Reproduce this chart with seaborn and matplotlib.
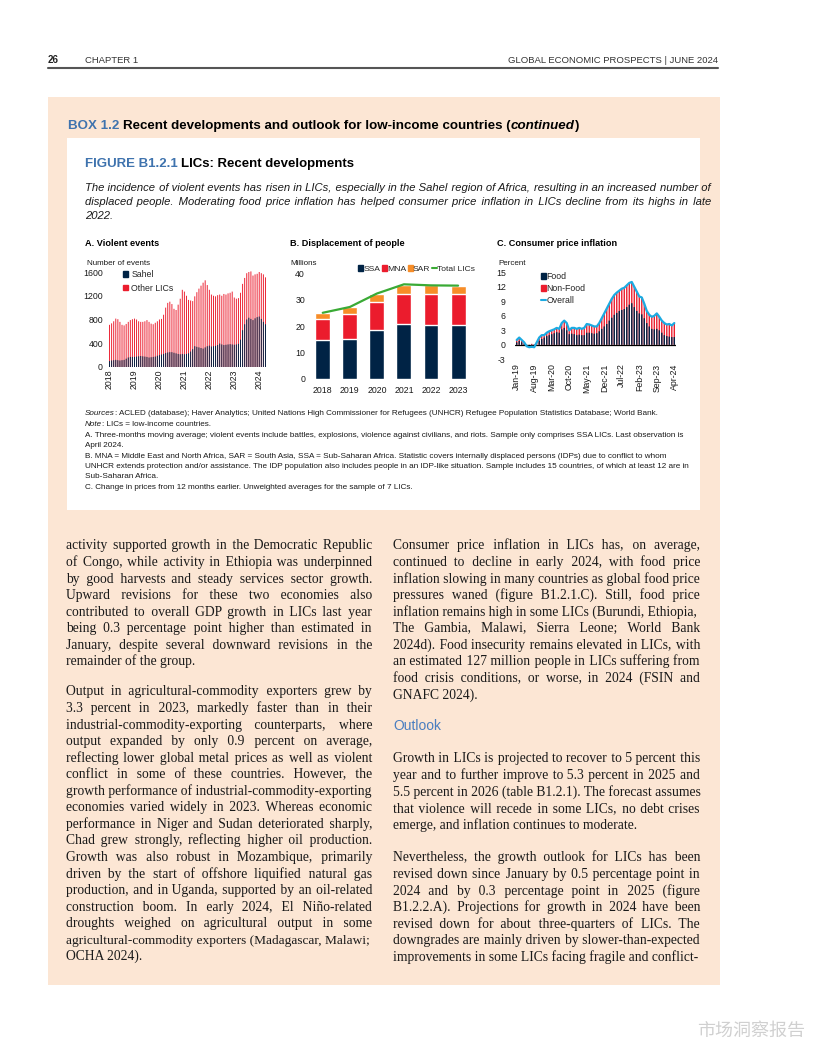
import matplotlib
matplotlib.use("Agg")
import matplotlib.pyplot as plt
import seaborn as sns
import numpy as np
import pandas as pd
from matplotlib.patches import Rectangle, Patch
from matplotlib.lines import Line2D

# ---------------- data ----------------
# Panel A: violent events, monthly Jan-2018 .. Apr-2024
year_labels_a = ["2018", "2019", "2020", "2021", "2022", "2023", "2024"]
sahel = [100, 110, 115, 120, 115, 110, 115, 120, 140, 160, 170, 170,
         170, 175, 180, 185, 180, 175, 170, 160, 165, 170, 175, 190,
         200, 210, 220, 235, 245, 250, 250, 240, 230, 220, 215, 220,
         215, 220, 230, 260, 300, 350, 340, 330, 320, 310, 330, 350,
         360, 345, 350, 355, 370, 395, 380, 370, 375, 380, 385, 380,
         375, 380, 390, 460, 620, 720, 800, 830, 810, 790, 820, 840,
         850, 810, 760, 720]
other_lics = [610, 625, 655, 695, 690, 650, 595, 580, 585, 600, 620, 635,
              645, 625, 590, 575, 580, 595, 620, 600, 565, 550, 570, 580,
              600, 600, 660, 765, 835, 850, 810, 740, 730, 830, 935, 1080,
              1055, 980, 900, 860, 810, 840, 920, 990, 1050, 1110, 1130, 1030,
              940, 875, 850, 835, 840, 825, 820, 860, 845, 860, 865, 890,
              795, 770, 770, 790, 780, 780, 780, 770, 800, 750, 740, 730,
              750, 770, 800, 790]

# Panel B: displacement of people (millions)
years_b = ["2018", "2019", "2020", "2021", "2022", "2023"]
ssa = [14.6, 15.0, 18.4, 20.9, 20.6, 20.6]
mna = [8.3, 9.5, 10.8, 11.3, 11.5, 11.5]
sar = [2.2, 2.7, 3.0, 3.5, 3.4, 3.2]
total_lics = [25.1, 27.3, 32.4, 35.9, 35.5, 35.4]

# Panel C: consumer price inflation, monthly Jan-2019 .. Apr-2024
tick_labels_c = ["Jan-19", "Aug-19", "Mar-20", "Oct-20", "May-21",
                 "Dec-21", "Jul-22", "Feb-23", "Sep-23", "Apr-24"]
food = [0.5, 0.8, 0.5, 0.2, -0.3, -0.5, -0.6, -0.6, 0.0, 0.8, 1.2, 1.5,
        1.8, 2.0, 2.2, 2.4, 2.6, 2.5, 3.2, 3.5, 3.0, 2.2, 2.3, 2.2,
        2.0, 2.1, 2.0, 2.0, 2.5, 2.5, 2.4, 2.3, 2.4, 2.8, 3.3, 3.8,
        4.3, 5.0, 5.6, 6.2, 6.6, 7.0, 7.2, 7.4, 7.8, 8.3, 8.6, 7.8,
        7.0, 6.5, 6.3, 5.5, 4.5, 3.8, 3.3, 3.2, 3.3, 3.0, 2.5, 2.0,
        1.8, 1.7, 1.6, 1.6]
non_food = [0.5, 0.7, 0.5, 0.3, 0.0, 0.0, 0.2, 0.1, 0.5, 0.7, 0.8, 0.5,
            0.7, 0.8, 0.8, 0.8, 0.9, 0.8, 1.3, 1.5, 1.5, 0.8, 1.2, 1.3,
            1.3, 1.4, 1.3, 1.5, 1.8, 1.7, 1.6, 1.5, 1.4, 1.7, 2.2, 2.7,
            3.2, 3.5, 3.9, 4.1, 4.2, 4.2, 4.4, 4.4, 4.5, 4.5, 4.4, 4.2,
            4.0, 3.5, 3.5, 3.0, 2.5, 2.4, 2.5, 2.8, 3.2, 2.8, 2.5, 2.5,
            2.4, 2.6, 2.4, 2.9]
overall = [1.0, 1.5, 1.0, 0.5, -0.3, -0.5, -0.4, -0.5, 0.5, 1.5, 2.0, 2.0,
           2.5, 2.8, 3.0, 3.2, 3.5, 3.3, 4.5, 5.0, 4.5, 3.0, 3.5, 3.5,
           3.3, 3.5, 3.3, 3.5, 4.3, 4.2, 4.0, 3.8, 3.8, 4.5, 5.5, 6.5,
           7.5, 8.5, 9.5, 10.3, 10.8, 11.2, 11.6, 11.8, 12.3, 12.8, 13.0, 12.0,
           11.0, 10.0, 9.8, 8.5, 7.0, 6.2, 5.8, 6.0, 6.5, 5.8, 5.0, 4.5,
           4.2, 4.3, 4.0, 4.5]

# ---------------- text ----------------
left_col = [
    ["activity supported growth in the Democratic Republic",
     "of Congo, while activity in Ethiopia was underpinned",
     "by good harvests and steady services sector growth.",
     "Upward revisions for these two economies also",
     "contributed to overall GDP growth in LICs last year",
     "being 0.3 percentage point higher than estimated in",
     "January, despite several downward revisions in the",
     "remainder of the group."],
    ["Output in agricultural-commodity exporters grew by",
     "3.3 percent in 2023, markedly faster than in their",
     "industrial-commodity-exporting counterparts, where",
     "output expanded by only 0.9 percent on average,",
     "reflecting lower global metal prices as well as violent",
     "conflict in some of these countries. However, the",
     "growth performance of industrial-commodity-exporting",
     "economies varied widely in 2023. Whereas economic",
     "performance in Niger and Sudan deteriorated sharply,",
     "Chad grew strongly, reflecting higher oil production.",
     "Growth was also robust in Mozambique, primarily",
     "driven by the start of offshore liquified natural gas",
     "production, and in Uganda, supported by an oil-related",
     "construction boom. In early 2024, El Niño-related",
     "droughts weighed on agricultural output in some",
     "agricultural-commodity exporters (Madagascar, Malawi;",
     "OCHA 2024)."],
]
right_col = [
    ["Consumer price inflation in LICs has, on average,",
     "continued to decline in early 2024, with food price",
     "inflation slowing in many countries as global food price",
     "pressures waned (figure B1.2.1.C). Still, food price",
     "inflation remains high in some LICs (Burundi, Ethiopia,",
     "The Gambia, Malawi, Sierra Leone; World Bank",
     "2024d). Food insecurity remains elevated in LICs, with",
     "an estimated 127 million people in LICs suffering from",
     "food crisis conditions, or worse, in 2024 (FSIN and",
     "GNAFC 2024)."],
    ["Growth in LICs is projected to recover to 5 percent this",
     "year and to further improve to 5.3 percent in 2025 and",
     "5.5 percent in 2026 (table B1.2.1). The forecast assumes",
     "that violence will recede in some LICs, no debt crises",
     "emerge, and inflation continues to moderate."],
    ["Nevertheless, the growth outlook for LICs has been",
     "revised down since January by 0.5 percentage point in",
     "2024 and by 0.3 percentage point in 2025 (figure",
     "B1.2.2.A). Projections for growth in 2024 have been",
     "revised down for about three-quarters of LICs. The",
     "downgrades are mainly driven by slower-than-expected",
     "improvements in some LICs facing fragile and conflict-"],
]

# ---------------- setup ----------------
sns.set_theme(style="white")
SANS = ['Liberation Sans', 'DejaVu Sans']
plt.rcParams['font.family'] = SANS
plt.rcParams['axes.unicode_minus'] = False

W, H = 816, 1056
fig = plt.figure(figsize=(W / 100, H / 100), dpi=100)
fig.patch.set_facecolor('white')
R = fig.canvas.get_renderer()

NAVY = '#002345'
RED = '#EB1C2D'
ORANGE = '#F78D28'
GREEN = '#3AAA35'
CYAN = '#1CABE2'
BLUE = '#3F73AE'
PEACH = '#FCE6D4'
TXT = '#1a1a1a'
HAIR = '\u200a'


def fx(x):
    return x / W


def fy(y):
    return 1 - y / H


def put(x, y, s, **kw):
    # y is the visual middle of the line; place on a baseline
    if 'va' not in kw:
        fs = kw.get('fontsize', 10)
        y = y + 0.33 * fs * 100 / 72
        kw['va'] = 'baseline'
    return fig.text(fx(x), fy(y), s, **kw)


def width_of(s, **kw):
    t = fig.text(0, 0, s, **kw)
    w = t.get_window_extent(R).width
    t.remove()
    return w


def space_of(**kw):
    return width_of("x x", **kw) - width_of("xx", **kw)


def rich(x, y, parts):
    for s, kw in parts:
        if s == ' ':
            x += space_of(**kw)
            continue
        put(x, y, s, **kw)
        x += width_of(s, **kw)


def justify(x0, x1, y, line, last=False, **kw):
    """Draw one line as a single text, widening the gaps with hair spaces."""
    words = line.split(' ')
    if last or len(words) == 1:
        put(x0, y, line, **kw)
        return
    ws = [width_of(w, **kw) for w in words]
    sp = space_of(**kw)
    hw = width_of('x' + HAIR + 'x', **kw) - width_of('xx', **kw)
    g = (x1 - x0 - sum(ws)) / (len(words) - 1)
    if g < sp:
        # too long for the column: shrink this line slightly so it fits
        kw = dict(kw)
        kw['fontsize'] = kw.get('fontsize', 10) * (x1 - x0) / width_of(line, **kw)
        put(x0, y, line, **kw)
        return
    if hw < 0.2:
        put(x0, y, line, **kw)
        return
    out = [words[0]]
    err = 0.0
    for w in words[1:]:
        need = g + err
        k = max(0, int(round((need - sp) / hw)))
        out.append(' ' + HAIR * k)
        out.append(w)
        err = need - (sp + k * hw)
    put(x0, y, ''.join(out), **kw)


def rect(x0, y0, x1, y1, color):
    fig.patches.append(Rectangle((fx(x0), fy(y1)), (x1 - x0) / W, (y1 - y0) / H,
                                 transform=fig.transFigure, facecolor=color,
                                 edgecolor='none', zorder=-10))


# ---------------- page frame ----------------
rect(48, 97, 720, 985, PEACH)
rect(67, 138, 700, 510, 'white')

put(48, 60, "26", fontsize=7, fontweight='bold', color='#222')
put(85, 60, "CHAPTER 1", fontsize=6.8, color='#333')
put(718, 60, "GLOBAL ECONOMIC PROSPECTS | JUNE 2024", fontsize=6.8, color='#333', ha='right')
fig.add_artist(Line2D([fx(48), fx(718)], [fy(68), fy(68)], transform=fig.transFigure,
                      color='#555555', lw=1.5))

TF = 9.6
rich(68, 125, [("BOX 1.2", dict(fontsize=TF, fontweight='bold', color=BLUE)),
               (' ', dict(fontsize=TF, fontweight='bold')),
               ("Recent developments and outlook for low-income countries (",
                dict(fontsize=TF, fontweight='bold', color='black')),
               ("continued", dict(fontsize=TF, fontweight='bold', style='italic', color='black')),
               (")", dict(fontsize=TF, fontweight='bold', color='black'))])

rich(85, 163, [("FIGURE B1.2.1", dict(fontsize=9.5, fontweight='bold', color=BLUE)),
               (' ', dict(fontsize=9.5, fontweight='bold')),
               ("LICs: Recent developments", dict(fontsize=9.5, fontweight='bold', color='black'))])

sub1 = "The incidence of violent events has risen in LICs, especially in the Sahel region of Africa, resulting in an increased number of"
sub_fs = 10 * (711 - 85 - 6) / width_of(sub1, fontsize=10, style='italic')
sub_kw = dict(fontsize=sub_fs, style='italic', color=TXT)
justify(85, 711, 187, sub1, **sub_kw)
justify(85, 711, 201, "displaced people. Moderating food price inflation has helped consumer price inflation in LICs decline from its highs in late", **sub_kw)
justify(85, 711, 215, "2022.", last=True, **sub_kw)

ttl = dict(fontsize=6.6, fontweight='bold', color='black')
put(85, 243, "A. Violent events", **ttl)
put(290, 243, "B. Displacement of people", **ttl)
put(497, 243, "C. Consumer price inflation", **ttl)
unit = dict(fontsize=5.8, color=TXT)
put(87, 262, "Number of events", **unit)
put(290, 262, "Millions", **unit)
put(498, 262, "Percent", **unit)

TICK = 6.3


def style_ax(ax):
    ax.set_facecolor('none')
    for s in ax.spines.values():
        s.set_visible(False)
    ax.set_xlabel('')
    ax.set_ylabel('')
    ax.tick_params(axis='both', length=0, labelsize=TICK, colors=TXT)


def thin_bars(ax):
    for p in ax.patches:
        p.set_snap(False)
        p.set_linewidth(0)
        p.set_antialiased(True)


def axes_px(x0, x1, ytop, ybot):
    return fig.add_axes([fx(x0), fy(ybot), (x1 - x0) / W, (ybot - ytop) / H])


# ---------------- Panel A ----------------
n_a = len(sahel)
df_a = pd.DataFrame({"m": np.arange(n_a),
                     "top": np.array(sahel) + np.array(other_lics),
                     "sahel": sahel})
axA = axes_px(108.5, 266.5, 367 - 1650 / 1600 * 95, 367)
sns.barplot(data=df_a, x="m", y="top", color=RED, saturation=1,
            width=0.45, errorbar=None, ax=axA)
sns.barplot(data=df_a, x="m", y="sahel", color=NAVY, saturation=1,
            width=0.45, errorbar=None, ax=axA)
thin_bars(axA)
axA.set_xlim(-0.5, n_a - 0.5)
axA.set_ylim(0, 1650)
axA.set_yticks([0, 400, 800, 1200, 1600])
axA.set_xticks(np.arange(0, n_a, 12))
axA.set_xticklabels(year_labels_a, rotation=90)
style_ax(axA)
axA.tick_params(axis='y', pad=4)
axA.tick_params(axis='x', pad=2)
axA.legend(handles=[Patch(color=NAVY, label="Sahel"), Patch(color=RED, label="Other LICs")],
           loc='upper left', bbox_to_anchor=(fx(123), fy(270)), bbox_transform=fig.transFigure,
           frameon=False, fontsize=6.3, handlelength=0.55, handleheight=0.55,
           handletextpad=0.4, labelspacing=0.55, borderpad=0, borderaxespad=0)

# ---------------- Panel B ----------------
df_b = pd.DataFrame({"year": years_b,
                     "l3": np.array(ssa) + np.array(mna) + np.array(sar),
                     "l2": np.array(ssa) + np.array(mna),
                     "l1": ssa,
                     "total": total_lics})
axB = axes_px(309.2, 471.6, 273.5, 379)
sns.barplot(data=df_b, x="year", y="l3", color=ORANGE, saturation=1, width=0.55,
            errorbar=None, ax=axB)
sns.barplot(data=df_b, x="year", y="l2", color=RED, saturation=1, width=0.55,
            errorbar=None, ax=axB)
sns.barplot(data=df_b, x="year", y="l1", color=NAVY, saturation=1, width=0.55,
            errorbar=None, ax=axB)
sns.lineplot(x=np.arange(len(years_b)), y=df_b["total"].values, color=GREEN, lw=1.6, ax=axB)
axB.set_xlim(-0.5, len(years_b) - 0.5)
axB.set_ylim(0, 40)
axB.set_yticks([0, 10, 20, 30, 40])
style_ax(axB)
axB.tick_params(axis='y', pad=3)
axB.tick_params(axis='x', pad=5)
axB.legend(handles=[Patch(color=NAVY, label="SSA"), Patch(color=RED, label="MNA"),
                    Patch(color=ORANGE, label="SAR"),
                    Line2D([], [], color=GREEN, lw=1.5, label="Total LICs")],
           loc='center left', bbox_to_anchor=(fx(358), fy(269)), bbox_transform=fig.transFigure,
           frameon=False, fontsize=6.1, ncol=4, handlelength=0.6, handleheight=0.6,
           handletextpad=0.05, columnspacing=0.15, borderpad=0, borderaxespad=0)

# ---------------- Panel C ----------------
n_c = len(food)
food_a = np.array(food)
df_c = pd.DataFrame({"m": np.arange(n_c),
                     "top": np.clip(food_a, 0, None) + np.array(non_food),
                     "food": food,
                     "overall": overall})
axC = axes_px(515.45, 675.55, 272.3, 359.3)
sns.barplot(data=df_c, x="m", y="top", color=RED, saturation=1,
            width=0.55, errorbar=None, ax=axC)
sns.barplot(data=df_c, x="m", y="food", color=NAVY, saturation=1,
            width=0.55, errorbar=None, ax=axC)
thin_bars(axC)
axC.plot(df_c["m"].values, df_c["overall"].values, color=CYAN, lw=1.6, zorder=6)
axC.axhline(0, color='black', lw=0.9, zorder=5)
axC.set_xlim(-0.5, n_c - 0.5)
axC.set_ylim(-3, 15)
axC.set_yticks([-3, 0, 3, 6, 9, 12, 15])
axC.set_xticks(np.arange(0, n_c, 7))
axC.set_xticklabels(tick_labels_c, rotation=90)
style_ax(axC)
axC.tick_params(axis='y', pad=7)
axC.tick_params(axis='x', pad=3)
axC.legend(handles=[Patch(color=NAVY, label="Food"), Patch(color=RED, label="Non-Food"),
                    Line2D([], [], color=CYAN, lw=1.5, label="Overall")],
           loc='upper left', bbox_to_anchor=(fx(541), fy(272)), bbox_transform=fig.transFigure,
           frameon=False, fontsize=6.3, handlelength=0.6, handleheight=0.6,
           handletextpad=0.05, labelspacing=0.35, borderpad=0, borderaxespad=0)

# ---------------- notes ----------------
note_lines = [
    [("Sources", dict(style='italic')), (": ACLED (database); Haver Analytics; United Nations High Commissioner for Refugees (UNHCR) Refugee Population Statistics Database; World Bank.", {})],
    [("Note", dict(style='italic')), (": LICs = low-income countries.", {})],
    [("A. Three-months moving average; violent events include battles, explosions, violence against civilians, and riots. Sample only comprises SSA LICs. Last observation is", {})],
    [("April 2024.", {})],
    [("B. MNA = Middle East and North Africa, SAR = South Asia, SSA = Sub-Saharan Africa. Statistic covers internally displaced persons (IDPs) due to conflict to whom", {})],
    [("UNHCR extends protection and/or assistance. The IDP population also includes people in an IDP-like situation. Sample includes 15 countries, of which at least 12 are in", {})],
    [("Sub-Saharan Africa.", {})],
    [("C. Change in prices from 12 months earlier. Unweighted averages for the sample of 7 LICs.", {})],
]
note_y = [412, 423, 434, 444, 455, 465, 475, 486]
ref_w = width_of(note_lines[5][0][0], fontsize=10)
note_fs = 10 * (695 - 85) / ref_w
for parts, y in zip(note_lines, note_y):
    rich(85, y, [(s, dict(fontsize=note_fs, color=TXT, **kw)) for s, kw in parts])

# ---------------- body text ----------------
body_kw = dict(fontsize=9.8, family=['Liberation Serif', 'DejaVu Serif'], color=TXT)
LS = 16.55


def column(x0, x1, paras, starts):
    for lines, y0 in zip(paras, starts):
        for i, ln in enumerate(lines):
            justify(x0, x1, y0 + i * LS, ln, last=(i == len(lines) - 1), **body_kw)


column(66, 372, left_col, [545, 691])
column(393, 700, right_col, [545, 758, 857])
put(393, 725, "Outlook", fontsize=10, color='#4A7EC0')

# watermark
put(805, 1030, "市场洞察报告", fontsize=13, color='#d0d0d0', ha='right',
    family=['Noto Sans CJK SC', 'DejaVu Sans'])

fig.savefig("out.png", dpi=100, facecolor='white')
